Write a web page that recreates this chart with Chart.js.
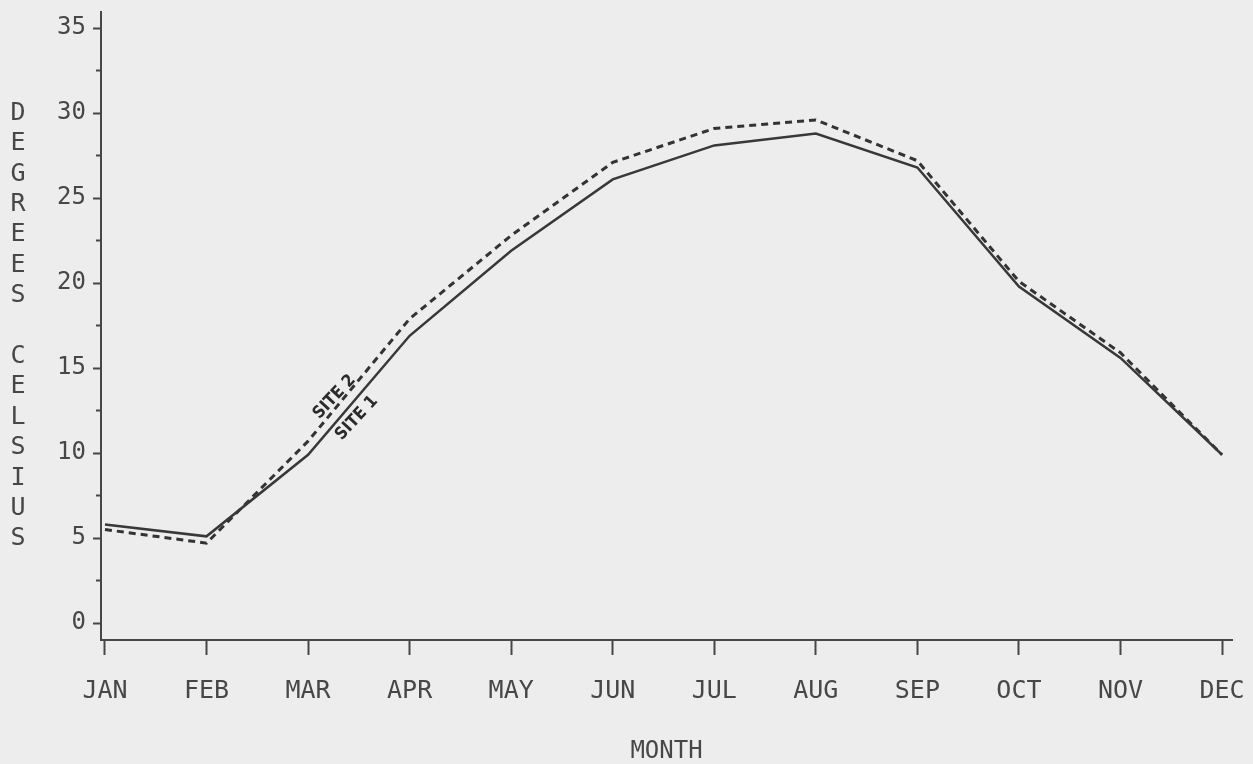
<!DOCTYPE html>
<html>
<head>
<meta charset="utf-8">
<script src="https://cdn.jsdelivr.net/npm/chart.js@4.4.1/dist/chart.umd.min.js"></script>
<style>
  html, body { margin: 0; padding: 0; background: #ededed; }
  #wrap { width: 1253px; height: 764px; position: relative; }
</style>
</head>
<body>
<div id="wrap"><canvas id="tempChart"></canvas></div>
<script>
// monthly mean temperature, degrees celsius
var months = ['JAN', 'FEB', 'MAR', 'APR', 'MAY', 'JUN', 'JUL', 'AUG', 'SEP', 'OCT', 'NOV', 'DEC'];
var site1 = [5.8, 5.1, 9.9, 16.9, 21.9, 26.1, 28.1, 28.8, 26.8, 19.8, 15.6, 9.9];
var site2 = [5.5, 4.7, 10.7, 17.9, 22.8, 27.1, 29.1, 29.6, 27.2, 20.1, 15.9, 9.9];
var yMajor = [0, 5, 10, 15, 20, 25, 30, 35];
var yMinor = [2.5, 7.5, 12.5, 17.5, 22.5, 27.5, 32.5];
var yTitle = 'DEGREES CELSIUS';

var ink = '#474747';
var mono = '"DejaVu Sans Mono", monospace';

function toPoints(values) {
    return values.map(function (v, i) { return { x: i, y: v }; });
}

// stacked letters for the y axis title
var stackedTitle = {
    id: 'stackedTitle',
    afterDraw: function (chart) {
        var ctx = chart.ctx;
        var area = chart.chartArea;
        var pitch = 30.4;
        var mid = (area.top + area.bottom) / 2;
        var start = mid - pitch * (yTitle.length - 1) / 2;
        ctx.save();
        ctx.fillStyle = ink;
        ctx.font = '25px ' + mono;
        ctx.textAlign = 'center';
        ctx.textBaseline = 'middle';
        for (var i = 0; i < yTitle.length; i++) {
            ctx.fillText(yTitle[i], 18, start + i * pitch);
        }
        ctx.restore();
    }
};

// the little SITE 1 / SITE 2 labels along the lines
var siteLabels = {
    id: 'siteLabels',
    afterDatasetsDraw: function (chart) {
        var ctx = chart.ctx;
        var xs = chart.scales.x, ys = chart.scales.y;
        var labels = [
            { text: 'SITE 2', x: 2.26, y: 13.3 },
            { text: 'SITE 1', x: 2.48, y: 12.06 }
        ];
        ctx.save();
        ctx.fillStyle = '#2a2a2a';
        ctx.font = 'bold 17px "DejaVu Sans Condensed", "DejaVu Sans", sans-serif';
        ctx.textAlign = 'center';
        ctx.textBaseline = 'middle';
        labels.forEach(function (l) {
            ctx.save();
            ctx.translate(xs.getPixelForValue(l.x), ys.getPixelForValue(l.y));
            ctx.rotate(-47 * Math.PI / 180);
            ctx.fillText(l.text, 0, 0);
            ctx.restore();
        });
        ctx.restore();
    }
};

var ctx = document.getElementById('tempChart').getContext('2d');
var tempChart = new Chart(ctx, {
    type: 'line',
    data: {
        datasets: [
            {
                label: 'SITE 1',
                data: toPoints(site1),
                borderColor: '#383838',
                borderWidth: 2.5,
                pointRadius: 0,
                tension: 0
            },
            {
                label: 'SITE 2',
                data: toPoints(site2),
                borderColor: '#333333',
                borderWidth: 3,
                borderDash: [7, 5],
                pointRadius: 0,
                tension: 0
            }
        ]
    },
    options: {
        responsive: true,
        maintainAspectRatio: false,
        animation: false,
        layout: { padding: { top: 12, right: 21, left: 0, bottom: 0 } },
        plugins: {
            legend: { display: false },
            tooltip: { enabled: false }
        },
        scales: {
            x: {
                type: 'linear',
                min: -0.039,
                max: 11.098,
                afterBuildTicks: function (scale) {
                    scale.ticks = months.map(function (m, i) { return { value: i }; });
                },
                afterFit: function (scale) {
                    scale.height = 124;
                    scale.paddingLeft = 0;
                    scale.paddingRight = 0;
                },
                grid: { drawOnChartArea: false, tickLength: 15, tickColor: ink, tickWidth: 2 },
                border: { color: ink, width: 2 },
                ticks: {
                    autoSkip: false,
                    maxRotation: 0,
                    padding: 21,
                    color: ink,
                    font: { family: mono, size: 25 },
                    callback: function (value) { return months[value]; }
                },
                title: {
                    display: true,
                    text: 'MONTH',
                    color: ink,
                    font: { family: mono, size: 24, lineHeight: 1 },
                    padding: { top: 0, bottom: 0 }
                }
            },
            y: {
                weight: 1,
                min: -1,
                max: 35.95,
                afterBuildTicks: function (scale) {
                    scale.ticks = yMajor.map(function (v) { return { value: v }; });
                },
                afterFit: function (scale) {
                    scale.width = 101;
                    scale.paddingTop = 0;
                    scale.paddingBottom = 0;
                },
                grid: { drawOnChartArea: false, tickLength: 8, tickColor: ink, tickWidth: 2 },
                border: { color: ink, width: 2 },
                ticks: {
                    padding: 7,
                    color: ink,
                    font: { family: mono, size: 24 }
                }
            },
            yMinor: {
                position: 'left',
                weight: 0,
                min: -1,
                max: 35.95,
                afterBuildTicks: function (scale) {
                    scale.ticks = yMinor.map(function (v) { return { value: v }; });
                },
                afterFit: function (scale) {
                    scale.width = 0;
                    scale.paddingTop = 0;
                    scale.paddingBottom = 0;
                },
                grid: { drawOnChartArea: false, tickLength: 5, tickColor: ink, tickWidth: 2 },
                border: { display: false },
                ticks: { display: false }
            }
        }
    },
    plugins: [stackedTitle, siteLabels]
});
</script>
</body>
</html>
